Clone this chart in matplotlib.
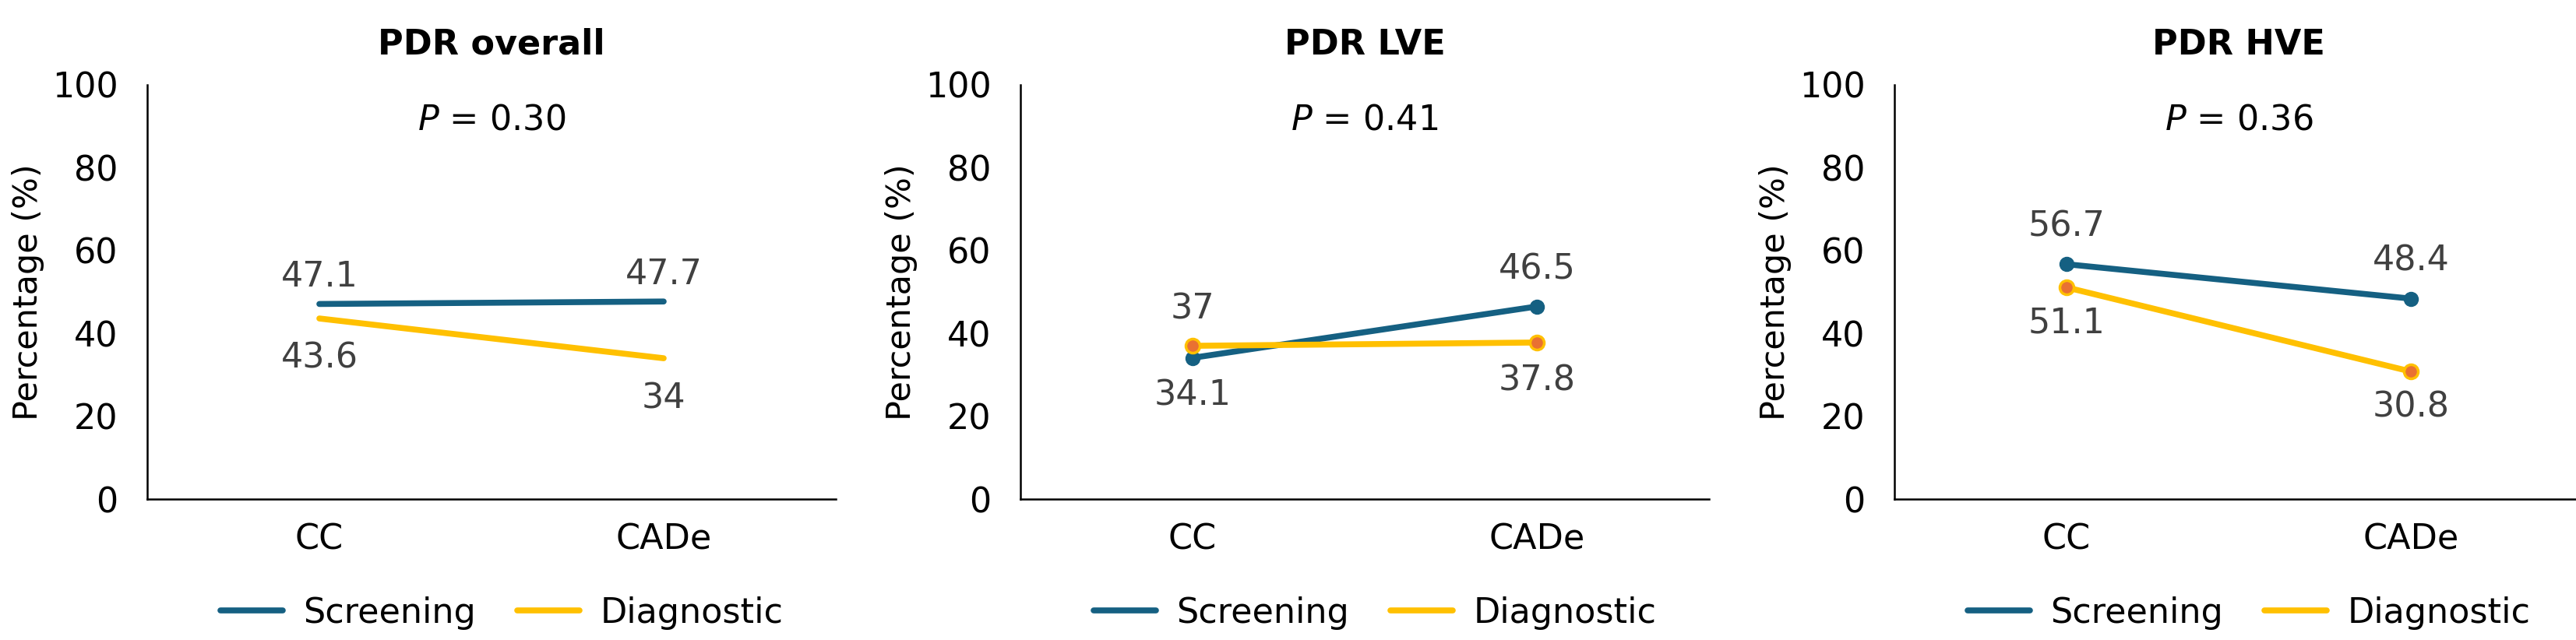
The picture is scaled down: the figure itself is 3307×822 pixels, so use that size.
import matplotlib
matplotlib.use("Agg")
import matplotlib.pyplot as plt
from matplotlib.lines import Line2D

plt.rcParams['font.family'] = ['DejaVu Sans']
plt.rcParams['mathtext.fontset'] = 'dejavusans'

categories = ["CC", "CADe"]
titles = ["PDR overall", "PDR LVE", "PDR HVE"]
p_values = ["0.30", "0.41", "0.36"]
series_names = ["Screening", "Diagnostic"]

screening_overall = [47.1, 47.7]
diagnostic_overall = [43.6, 34]
screening_lve = [34.1, 46.5]
diagnostic_lve = [37, 37.8]
screening_hve = [56.7, 48.4]
diagnostic_hve = [51.1, 30.8]

screening_labels = [["47.1", "47.7"], ["34.1", "46.5"], ["56.7", "48.4"]]
diagnostic_labels = [["43.6", "34"], ["37", "37.8"], ["51.1", "30.8"]]

y_ticks = [0, 20, 40, 60, 80, 100]

# label placement (+1 above, -1 below) -- styling
screen_dir = [[1, 1], [-1, 1], [1, 1]]
diag_dir = [[-1, -1], [1, -1], [-1, -1]]
show_markers = [False, True, True]
off_above = [25, 34, 35]
off_below = [37, 35, 33]

panels = [
    (screening_overall, diagnostic_overall),
    (screening_lve, diagnostic_lve),
    (screening_hve, diagnostic_hve),
]

BLUE = "#156082"
GOLD = "#FFC000"
ORANGE = "#E97132"
LABEL_GRAY = "#404040"
FS = 32

W, H = 3307, 822
fig = plt.figure(figsize=(W / 100, H / 100), dpi=100)

lefts_px = [189, 1310, 2432]
ax_w_px = 884
bottom_px = 641
top_px = 109
ax_h_px = bottom_px - top_px

for i, (scr, dia) in enumerate(panels):
    ax = fig.add_axes([lefts_px[i] / W, 1 - bottom_px / H, ax_w_px / W, ax_h_px / H])
    x = list(range(len(categories)))
    mk = dict(marker='o', markersize=13) if show_markers[i] else dict(marker=None)
    ax.plot(x, scr, color=BLUE, lw=5.5, solid_capstyle='round',
            markerfacecolor=BLUE, markeredgecolor=BLUE, zorder=3, clip_on=False,
            **mk)
    ax.plot(x, dia, color=GOLD, lw=5.5, solid_capstyle='round',
            markerfacecolor=ORANGE, markeredgecolor=GOLD, markeredgewidth=2.5,
            zorder=4, clip_on=False, **mk)
    for j in x:
        for vals, labs, dirs in ((scr, screening_labels[i], screen_dir[i]),
                                 (dia, diagnostic_labels[i], diag_dir[i])):
            d = dirs[j]
            off = off_above[i] if d > 0 else -off_below[i]
            ax.annotate(labs[j], (j, vals[j]), xytext=(0, off),
                        textcoords='offset points', ha='center', va='center',
                        fontsize=FS, color=LABEL_GRAY)

    ax.set_xlim(-0.5, 1.5)
    ax.set_ylim(0, 100)
    ax.set_yticks(y_ticks)
    ax.set_yticklabels([str(t) for t in y_ticks])
    ax.set_xticks(x)
    ax.set_xticklabels(categories)
    ax.tick_params(axis='both', length=0, labelsize=FS, colors='black')
    ax.tick_params(axis='y', pad=27)
    ax.tick_params(axis='x', pad=22)
    for s in ['top', 'right']:
        ax.spines[s].set_visible(False)
    for s in ['left', 'bottom']:
        ax.spines[s].set_linewidth(1.8)
        ax.spines[s].set_color('black')
    ax.set_ylabel("Percentage (%)", fontsize=31)
    ax.yaxis.set_label_coords(-132 / ax_w_px, 0.5)

    ax.text(0.5, (bottom_px - 57) / ax_h_px, titles[i],
            transform=ax.transAxes, ha='center', va='center',
            fontsize=FS, fontweight='bold')
    ax.text(0.5, (bottom_px - 154) / ax_h_px,
            r'$P$ = ' + p_values[i], transform=ax.transAxes,
            ha='center', va='center', fontsize=FS)

    handles = [Line2D([0], [0], color=BLUE, lw=5.5, solid_capstyle='round'),
               Line2D([0], [0], color=GOLD, lw=5.5, solid_capstyle='round')]
    ax.legend(handles, series_names, loc='center',
              bbox_to_anchor=(0.515, (bottom_px - 787) / ax_h_px),
              ncol=2, frameon=False, fontsize=FS, handlelength=1.8,
              handletextpad=0.6, columnspacing=1.2)

fig.savefig("out.png", dpi=100)
